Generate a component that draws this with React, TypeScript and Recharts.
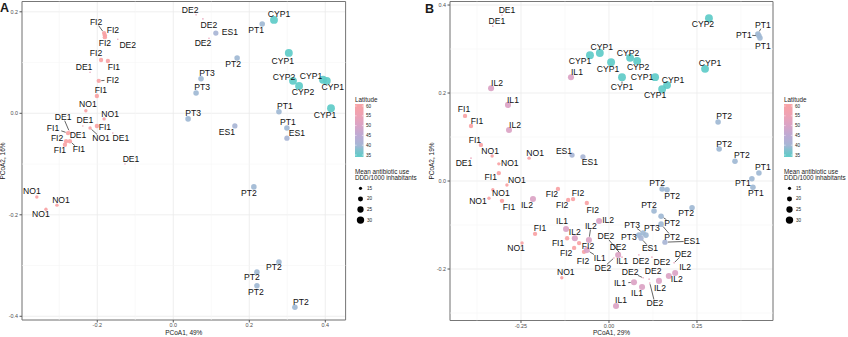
import React from "react";
import {
  CartesianGrid,
  ReferenceArea,
  ReferenceLine,
  Scatter,
  ScatterChart,
  XAxis,
  YAxis,
} from "recharts";

// Country attributes (colour = latitude, size = mean antibiotic use)
const COUNTRIES = ["CYP", "PT", "ES", "IL", "DE", "NO", "FI"];
const LATITUDE = [35, 39.5, 40.5, 50.5, 54, 60, 60.5];
const ANTIBIOTIC_USE = [32.5, 22, 21, 24, 12.5, 15.5, 18];

const LEGEND_LAT_TICKS = [60, 55, 50, 45, 40, 35];
const LEGEND_USE_TICKS = [15, 20, 25, 30];

// Panel A: PCoA1 49% / PCoA2 16%
const A_LABELS = [
  "FI2", "FI2", "FI2", "DE2", "FI2", "FI1", "DE1", "FI2", "FI1", "NO1",
  "NO1", "FI1", "DE1", "NO1", "DE1", "DE1", "FI1", "DE1", "FI2", "FI1",
  "FI1", "DE1", "NO1", "NO1", "NO1", "DE2", "DE2", "ES1", "DE2", "PT1",
  "CYP1", "PT2", "CYP1", "PT3", "PT3", "PT3", "CYP2", "CYP2", "CYP1", "CYP1",
  "CYP1", "PT1", "PT1", "ES1", "ES1", "PT2", "PT2", "PT2", "PT2", "PT2",
];
const A_X = [
  -0.182, -0.18, -0.18, -0.146, -0.19, -0.172, -0.219, -0.196, -0.201, -0.23,
  -0.182, -0.201, -0.238, -0.219, -0.159, -0.274, -0.277, -0.269, -0.282, -0.285,
  -0.272, -0.127, -0.359, -0.335, -0.306, 0.06, 0.078, 0.112, 0.094, 0.234,
  0.265, 0.168, 0.304, 0.073, 0.06, 0.039, 0.315, 0.331, 0.394, 0.404,
  0.415, 0.278, 0.299, 0.299, 0.162, 0.212, 0.278, 0.22, 0.22, 0.32,
];
const A_Y = [
  0.158, 0.154, 0.15, 0.146, 0.105, 0.103, 0.081, 0.064, 0.034, 0.005,
  -0.011, -0.025, -0.025, -0.029, -0.039, -0.035, -0.039, -0.041, -0.055, -0.062,
  -0.055, -0.1, -0.165, -0.189, -0.181, 0.194, 0.186, 0.158, 0.148, 0.176,
  0.184, 0.109, 0.119, 0.068, 0.04, -0.011, 0.064, 0.054, 0.066, 0.064,
  0.01, 0.003, -0.029, -0.049, -0.025, -0.145, -0.293, -0.313, -0.34, -0.382,
];

// Panel B: PCoA1 29% / PCoA2 19%
const B_LABELS = [
  "DE1", "DE1", "IL2", "IL1", "IL2", "FI1", "FI1", "FI1", "NO1", "DE1",
  "NO1", "NO1", "ES1", "ES1", "IL1", "CYP1", "CYP1", "CYP1", "CYP1", "CYP2",
  "CYP2", "CYP1", "CYP1", "CYP1", "CYP1", "CYP2", "PT1", "PT1", "PT1", "PT2",
  "PT2", "PT2", "PT1", "PT1", "PT1", "FI1", "NO1", "NO1", "NO1", "FI1",
  "IL2", "FI2", "FI2", "FI2", "FI2", "PT2", "PT2", "PT2", "PT2", "PT2",
  "PT2", "PT3", "PT3", "PT3", "ES1", "ES1", "FI1", "NO1", "IL1", "IL2",
  "FI1", "IL2", "IL2", "FI2", "FI2", "FI2", "IL1", "IL1", "DE2", "DE2",
  "DE2", "DE2", "DE2", "DE2", "IL2", "IL2", "DE2", "IL2", "IL1", "IL1",
  "DE2", "DE2", "IL1", "NO1",
];
const B_X = [
  -0.304, -0.33, -0.335, -0.287, -0.284, -0.409, -0.392, -0.364, -0.332, -0.392,
  -0.313, -0.227, -0.105, -0.074, -0.108, -0.054, -0.026, 0.006, 0.037, 0.06,
  0.08, 0.131, 0.165, 0.151, 0.273, 0.284, 0.423, 0.426, 0.429, 0.31,
  0.313, 0.358, 0.426, 0.406, 0.409, -0.313, -0.29, -0.33, -0.341, -0.304,
  -0.216, -0.145, -0.116, -0.102, -0.063, 0.151, 0.165, 0.128, 0.236, 0.148,
  0.148, 0.085, 0.097, 0.105, 0.091, 0.159, -0.21, -0.247, -0.122, -0.097,
  -0.119, -0.057, -0.028, -0.085, -0.099, -0.071, -0.063, 0.026, 0.031, 0.037,
  0.014, 0.085, 0.122, 0.185, 0.188, 0.17, 0.114, 0.142, 0.071, 0.094,
  0.116, 0.097, 0.02, -0.134,
];
const B_Y = [
  0.377, 0.352, 0.211, 0.173, 0.116, 0.148, 0.125, 0.082, 0.057, 0.052,
  0.039, 0.052, 0.059, 0.055, 0.236, 0.286, 0.291, 0.27, 0.236, 0.28,
  0.273, 0.236, 0.218, 0.209, 0.255, 0.37, 0.334, 0.33, 0.325, 0.134,
  0.073, 0.045, 0.018, 0.005, -0.014, 0.018, -0.009, -0.02, -0.039, -0.045,
  -0.041, -0.018, -0.043, -0.041, -0.05, -0.018, -0.02, -0.068, -0.061, -0.08,
  -0.098, -0.123, -0.118, -0.123, -0.13, -0.139, -0.12, -0.141, -0.109, -0.13,
  -0.13, -0.134, -0.091, -0.141, -0.152, -0.161, -0.157, -0.168, -0.164, -0.173,
  -0.175, -0.168, -0.173, -0.186, -0.209, -0.216, -0.223, -0.227, -0.23, -0.241,
  -0.232, -0.22, -0.284, -0.22,
];

// label placement (repel-style offsets in px: dx, dy, draw segment)
const A_NUDGE = [
  [-8, -11, 1], [8, -5, 0], [0, 6, 0], [10, 6, 0], [-5, -7, 0], [6, 6, 0], [-6, -5, 0], [14, -1, 1], [4, -6, 0], [2, -7, 0],
  [6, -5, 0], [8, 1, 0], [2, -6, 0], [11, 10, 1], [8, 5, 0], [-6, -14, 1], [-15, -5, 1], [7, 1, 0], [-9, -3, 0], [-5, 5, 0],
  [9, 8, 1], [6, -5, 0], [-5, -6, 0], [-5, 5, 0], [4, -5, 0], [-6, -5, 0], [6, 6, 0], [14, -1, 0], [-6, 5, 0], [-6, 6, 0],
  [5, -6, 0], [-4, 6, 0], [-6, 8, 0], [6, -6, 0], [6, -6, 0], [5, -6, 0], [-9, -4, 0], [4, 6, 0], [-12, -4, 0], [6, 6, 0],
  [-6, 7, 0], [6, -6, 0], [1, -6, 0], [10, -5, 0], [-8, 6, 0], [-5, 6, 0], [-5, 5, 0], [-5, 5, 0], [-1, 6, 0], [6, -5, 0],
];
const B_NUDGE = [
  [5, -5, 0], [4, -5, 0], [6, -5, 0], [5, -5, 0], [6, -5, 0], [-1, -7, 0], [6, -5, 0], [-6, -5, 0], [-2, -5, 0], [-7, 5, 0],
  [11, -1, 0], [6, -5, 0], [-8, -4, 0], [7, 5, 0], [6, -5, 0], [-10, 6, 0], [2, -6, 0], [-3, 7, 0], [0, 10, 1], [-2, -5, 0],
  [1, 6, 0], [-13, 0, 0], [6, -5, 0], [-7, 6, 0], [5, -6, 0], [-6, 6, 0], [5, -9, 1], [-15, -1, 1], [3, 8, 0], [6, -6, 0],
  [5, -5, 0], [7, -6, 0], [4, -6, 0], [-9, 4, 0], [3, 6, 0], [-8, 4, 0], [10, -5, 0], [8, 3, 0], [-11, 3, 0], [7, 6, 0],
  [-6, 6, 0], [-6, 5, 0], [-6, 5, 0], [5, -6, 0], [6, 7, 0], [-5, -6, 0], [5, 6, 0], [-5, -6, 0], [-6, 5, 0], [11, 7, 1],
  [11, 13, 1], [-10, 2, 0], [-11, -8, 1], [6, -7, 0], [9, 10, 1], [27, -1, 1], [5, -6, 0], [-6, 5, 0], [-4, -8, 0], [0, -6, 0],
  [-9, 5, 0], [2, -14, 1], [9, -1, 0], [9, 3, 0], [-8, 5, 0], [-1, 9, 0], [13, 8, 1], [4, 6, 0], [-14, -17, 1], [-4, -10, 0],
  [-11, 10, 1], [2, 6, 0], [10, 5, 0], [9, -9, 1], [10, -6, 0], [8, 3, 0], [4, -8, 0], [1, 7, 0], [-14, 1, 1], [-5, 6, 0],
  [5, 20, 1], [-13, -6, 1], [5, -6, 0], [4, -6, 0],
];

const FONT = "Arial, 'Liberation Sans', Helvetica, sans-serif";

const LAT_STOPS: [number, string][] = [
  [35, "#5ecbc8"],
  [40, "#a6b6d5"],
  [45, "#bdaad4"],
  [50, "#d9a3c6"],
  [55, "#eda2b5"],
  [60, "#f8a2a4"],
];

function hexRgb(h: string) {
  return [1, 3, 5].map((i) => parseInt(h.slice(i, i + 2), 16));
}

function latColor(lat: number): string {
  const v = Math.max(LAT_STOPS[0][0], Math.min(LAT_STOPS[LAT_STOPS.length - 1][0], lat));
  for (let i = 0; i < LAT_STOPS.length - 1; i++) {
    const [l0, c0] = LAT_STOPS[i];
    const [l1, c1] = LAT_STOPS[i + 1];
    if (v <= l1) {
      const t = (v - l0) / (l1 - l0);
      const a = hexRgb(c0);
      const b = hexRgb(c1);
      return `rgb(${a.map((x, k) => Math.round(x + (b[k] - x) * t)).join(",")})`;
    }
  }
  return LAT_STOPS[LAT_STOPS.length - 1][1];
}

function radius(use: number) {
  return Math.sqrt(Math.max(0.5, 0.74 * (use - 11.6)));
}

function Dot(props: any) {
  const { cx, cy, payload } = props;
  if (cx == null || cy == null) return null;
  return <circle cx={cx} cy={cy} r={payload.r} fill={payload.color} fillOpacity={0.92} />;
}

function PointLabel(props: any) {
  const { cx, cy, payload } = props;
  if (cx == null || cy == null) return null;
  const [dx, dy, seg] = payload.nudge;
  let line = null;
  if (seg) {
    const hw = payload.label.length * 2.6 + 0.5;
    const hh = 3.6;
    const s = Math.min(dx ? hw / Math.abs(dx) : Infinity, dy ? hh / Math.abs(dy) : Infinity);
    const len = Math.hypot(dx, dy);
    const k0 = Math.min(0.9, (payload.r + 0.3) / len);
    const k1 = Math.max(k0, 1 - s);
    line = (
      <line
        x1={cx + dx * k0}
        y1={cy + dy * k0}
        x2={cx + dx * k1}
        y2={cy + dy * k1}
        stroke="#222"
        strokeWidth={0.7}
      />
    );
  }
  return (
    <g>
      {line}
      <text
        x={cx + dx}
        y={cy + dy}
        textAnchor="middle"
        dominantBaseline="central"
        fontSize={8.6}
        fill="#111"
        fontFamily={FONT}
      >
        {payload.label}
      </text>
    </g>
  );
}

interface PanelProps {
  left: number;
  right: number;
  yWidth: number;
  xHeight: number;
  labels: string[];
  xs: number[];
  ys: number[];
  nudges: number[][];
  xDomain: [number, number];
  yDomain: [number, number];
  xTicks: number[];
  yTicks: number[];
  xMinor: number[];
  yMinor: number[];
  xDigits: number;
}

function Panel(p: PanelProps) {
  const data = p.labels.map((label, i) => {
    const c = COUNTRIES.indexOf(label.replace(/\d+$/, ""));
    return {
      x: p.xs[i],
      y: p.ys[i],
      label,
      nudge: p.nudges[i],
      color: latColor(LATITUDE[c]),
      r: radius(ANTIBIOTIC_USE[c]),
    };
  });
  const tick = { fontSize: 5.4, fill: "#4d4d4d", fontFamily: FONT };
  return (
    <div style={{ position: "absolute", left: p.left, top: 0, width: 350, height: 337 }}>
      <ScatterChart width={350} height={337} margin={{ top: 1.5, right: p.right, bottom: 0, left: 0 }}>
        <CartesianGrid stroke="#ebebeb" strokeWidth={0.8} />
        {p.xMinor.map((v) => (
          <ReferenceLine key={`mx${v}`} x={v} stroke="#f5f5f5" strokeWidth={0.6} />
        ))}
        {p.yMinor.map((v) => (
          <ReferenceLine key={`my${v}`} y={v} stroke="#f5f5f5" strokeWidth={0.6} />
        ))}
        <XAxis
          type="number"
          dataKey="x"
          domain={p.xDomain}
          ticks={p.xTicks}
          interval={0}
          allowDataOverflow
          height={p.xHeight}
          tick={tick}
          tickSize={2.5}
          tickMargin={1}
          tickLine={{ stroke: "#555" }}
          axisLine={false}
          tickFormatter={(v: number) => v.toFixed(p.xDigits)}
        />
        <YAxis
          type="number"
          dataKey="y"
          domain={p.yDomain}
          ticks={p.yTicks}
          interval={0}
          allowDataOverflow
          width={p.yWidth}
          tick={tick}
          tickSize={2.5}
          tickMargin={1.5}
          tickLine={{ stroke: "#555" }}
          axisLine={false}
          tickFormatter={(v: number) => v.toFixed(1)}
        />
        <ReferenceArea
          x1={p.xDomain[0]}
          x2={p.xDomain[1]}
          y1={p.yDomain[0]}
          y2={p.yDomain[1]}
          fill="none"
          fillOpacity={0}
          stroke="#777"
          strokeWidth={1}
        />
        <Scatter data={data} shape={Dot} isAnimationActive={false} />
        <Scatter data={data} shape={PointLabel} isAnimationActive={false} />
      </ScatterChart>
    </div>
  );
}

function LegendBlock({ x0 }: { x0: number }) {
  const lat2y = (lat: number) => 155 - (lat - 35) * 1.96;
  const id = `latgrad${x0}`;
  const gradStops = [34, 37, 40, 42.5, 45, 47.5, 50, 52.5, 55, 57.5, 61];
  return (
    <g fontFamily={FONT} fill="#1a1a1a">
      <defs>
        <linearGradient id={id} x1="0" y1="1" x2="0" y2="0">
          {gradStops.map((l) => (
            <stop key={l} offset={(l - 34) / 27} stopColor={latColor(l)} />
          ))}
        </linearGradient>
      </defs>
      <text x={x0} y={101.5} fontSize={6.3}>
        Latitude
      </text>
      <rect x={x0} y={lat2y(61)} width={8.5} height={lat2y(34) - lat2y(61)} fill={`url(#${id})`} />
      {LEGEND_LAT_TICKS.map((t) => (
        <g key={t}>
          <line x1={x0} x2={x0 + 1.6} y1={lat2y(t)} y2={lat2y(t)} stroke="#fff" strokeWidth={0.5} />
          <line x1={x0 + 6.9} x2={x0 + 8.5} y1={lat2y(t)} y2={lat2y(t)} stroke="#fff" strokeWidth={0.5} />
          <text x={x0 + 11} y={lat2y(t)} dominantBaseline="central" fontSize={4.6}>
            {t}
          </text>
        </g>
      ))}
      <text x={x0} y={173.8} fontSize={6.3}>
        Mean antibiotic use
      </text>
      <text x={x0} y={179.8} fontSize={6.3}>
        DDD/1000 inhabitants
      </text>
      {LEGEND_USE_TICKS.map((u, i) => (
        <g key={u}>
          <circle cx={x0 + 5.5} cy={188.3 + i * 10.6} r={radius(u)} fill="#000" />
          <text x={x0 + 12} y={188.3 + i * 10.6} dominantBaseline="central" fontSize={4.6}>
            {u}
          </text>
        </g>
      ))}
    </g>
  );
}

export default function App() {
  return (
    <div style={{ position: "relative", width: 848, height: 337, background: "#fff", overflow: "hidden" }}>
      <style>{"body{margin:0}"}</style>
      <Panel
        left={0}
        right={4.4}
        yWidth={22}
        xHeight={17}
        labels={A_LABELS}
        xs={A_X}
        ys={A_Y}
        nudges={A_NUDGE}
        xDomain={[-0.398, 0.4534]}
        yDomain={[-0.4073, 0.2203]}
        xTicks={[-0.2, 0, 0.2, 0.4]}
        yTicks={[-0.4, -0.2, 0, 0.2]}
        xMinor={[-0.3, -0.1, 0.1, 0.3]}
        yMinor={[-0.3, -0.1, 0.1]}
        xDigits={1}
      />
      <Panel
        left={425}
        right={2}
        yWidth={25}
        xHeight={16.5}
        labels={B_LABELS}
        xs={B_X}
        ys={B_Y}
        nudges={B_NUDGE}
        xDomain={[-0.4517, 0.466]}
        yDomain={[-0.317, 0.408]}
        xTicks={[-0.25, 0, 0.25]}
        yTicks={[-0.2, 0, 0.2, 0.4]}
        xMinor={[-0.375, -0.125, 0.125, 0.375]}
        yMinor={[-0.3, -0.1, 0.1, 0.3]}
        xDigits={2}
      />
      <svg
        width={848}
        height={337}
        style={{ position: "absolute", left: 0, top: 0, pointerEvents: "none" }}
      >
        <g fontFamily={FONT} fill="#1a1a1a">
          <text x={0} y={12} fontSize={12.5} fontWeight="bold">
            A
          </text>
          <text x={425} y={12.5} fontSize={12.5} fontWeight="bold">
            B
          </text>
          <text x={183.8} y={335} fontSize={6.5} textAnchor="middle">
            PCoA1, 49%
          </text>
          <text x={4.5} y={161} fontSize={6.5} textAnchor="middle" transform="rotate(-90 4.5 161)">
            PCoA2, 16%
          </text>
          <text x={611.5} y={335} fontSize={6.5} textAnchor="middle">
            PCoA1, 29%
          </text>
          <text x={433.5} y={161} fontSize={6.5} textAnchor="middle" transform="rotate(-90 433.5 161)">
            PCoA2, 19%
          </text>
        </g>
        <LegendBlock x0={355} />
        <LegendBlock x0={784} />
      </svg>
    </div>
  );
}
